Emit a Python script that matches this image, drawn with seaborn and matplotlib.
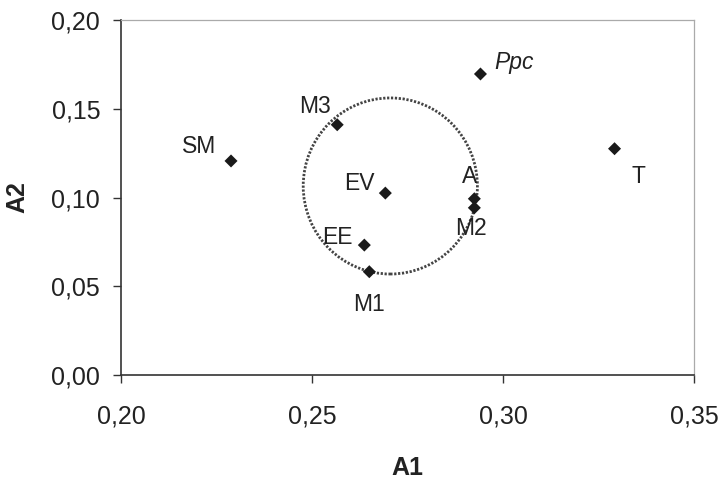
import matplotlib
matplotlib.use("Agg")
import matplotlib.pyplot as plt
import seaborn as sns
import pandas as pd
from matplotlib.patches import Ellipse
from matplotlib.ticker import FuncFormatter

# Data
labels = ["SM", "M3", "EV", "EE", "M1", "A", "M2", "Ppc", "T"]
a1 = [0.2288, 0.2566, 0.2692, 0.2637, 0.2650, 0.2925, 0.2925, 0.2941, 0.3292]
a2 = [0.1206, 0.1410, 0.1025, 0.0732, 0.0582, 0.0993, 0.0942, 0.1696, 0.1275]
x_ticks = [0.20, 0.25, 0.30, 0.35]
y_ticks = [0.00, 0.05, 0.10, 0.15, 0.20]
circle_center = (0.2705, 0.1065)
circle_size = (0.0456, 0.0992)

# label offsets in pixels (dx, dy)
offsets = {
    "SM": (-32, 14), "M3": (-22, 18), "EV": (-26, 10), "EE": (-27, 8),
    "M1": (0, -33), "A": (-5, 22), "M2": (-3, -21), "Ppc": (34, 11), "T": (24, -28),
}

df = pd.DataFrame({"label": labels, "A1": a1, "A2": a2})

sns.set_theme(style="ticks")
plt.rcParams["font.family"] = ["Liberation Sans", "DejaVu Sans"]

fig = plt.figure(figsize=(7.22, 4.79), dpi=100)
ax = fig.add_axes([0.1676, 0.2171, 0.7936, 0.7411])

sns.scatterplot(data=df, x="A1", y="A2", marker="D", s=44, color="#1a1a1a",
                edgecolor="none", ax=ax, zorder=3)

ell = Ellipse(circle_center, circle_size[0], circle_size[1], fill=False,
              edgecolor="#444444", linewidth=2.0, linestyle=(0, (0.8, 0.6)), zorder=2)
ax.add_patch(ell)

for lab, x, y in zip(labels, a1, a2):
    dx, dy = offsets[lab]
    ax.annotate(lab, (x, y), xytext=(dx, dy), textcoords="offset pixels",
                ha="center", va="center", fontsize=16.5, color="#222222",
                style="italic" if lab == "Ppc" else "normal")

ax.set_xlim(0.20, 0.35)
ax.set_ylim(0.00, 0.20)
ax.set_xticks(x_ticks)
ax.set_yticks(y_ticks)
fmt = FuncFormatter(lambda v, p: f"{v:.2f}".replace(".", ","))
ax.xaxis.set_major_formatter(fmt)
ax.yaxis.set_major_formatter(fmt)
ax.tick_params(axis="both", direction="out", length=6, width=1.0, color="#333333",
               labelsize=18, labelcolor="#222222")
ax.tick_params(axis="x", pad=15)
ax.tick_params(axis="y", pad=9)

ax.set_xlabel("A1", fontsize=18, fontweight="bold", color="#222222", labelpad=20)
ax.set_ylabel("A2", fontsize=18, fontweight="bold", color="#222222", labelpad=16)

for s in ["left", "bottom"]:
    ax.spines[s].set_color("#333333")
    ax.spines[s].set_linewidth(1.2)
for s in ["right", "top"]:
    ax.spines[s].set_color("#aaaaaa")
    ax.spines[s].set_linewidth(0.9)

fig.savefig("out.png", dpi=100)
